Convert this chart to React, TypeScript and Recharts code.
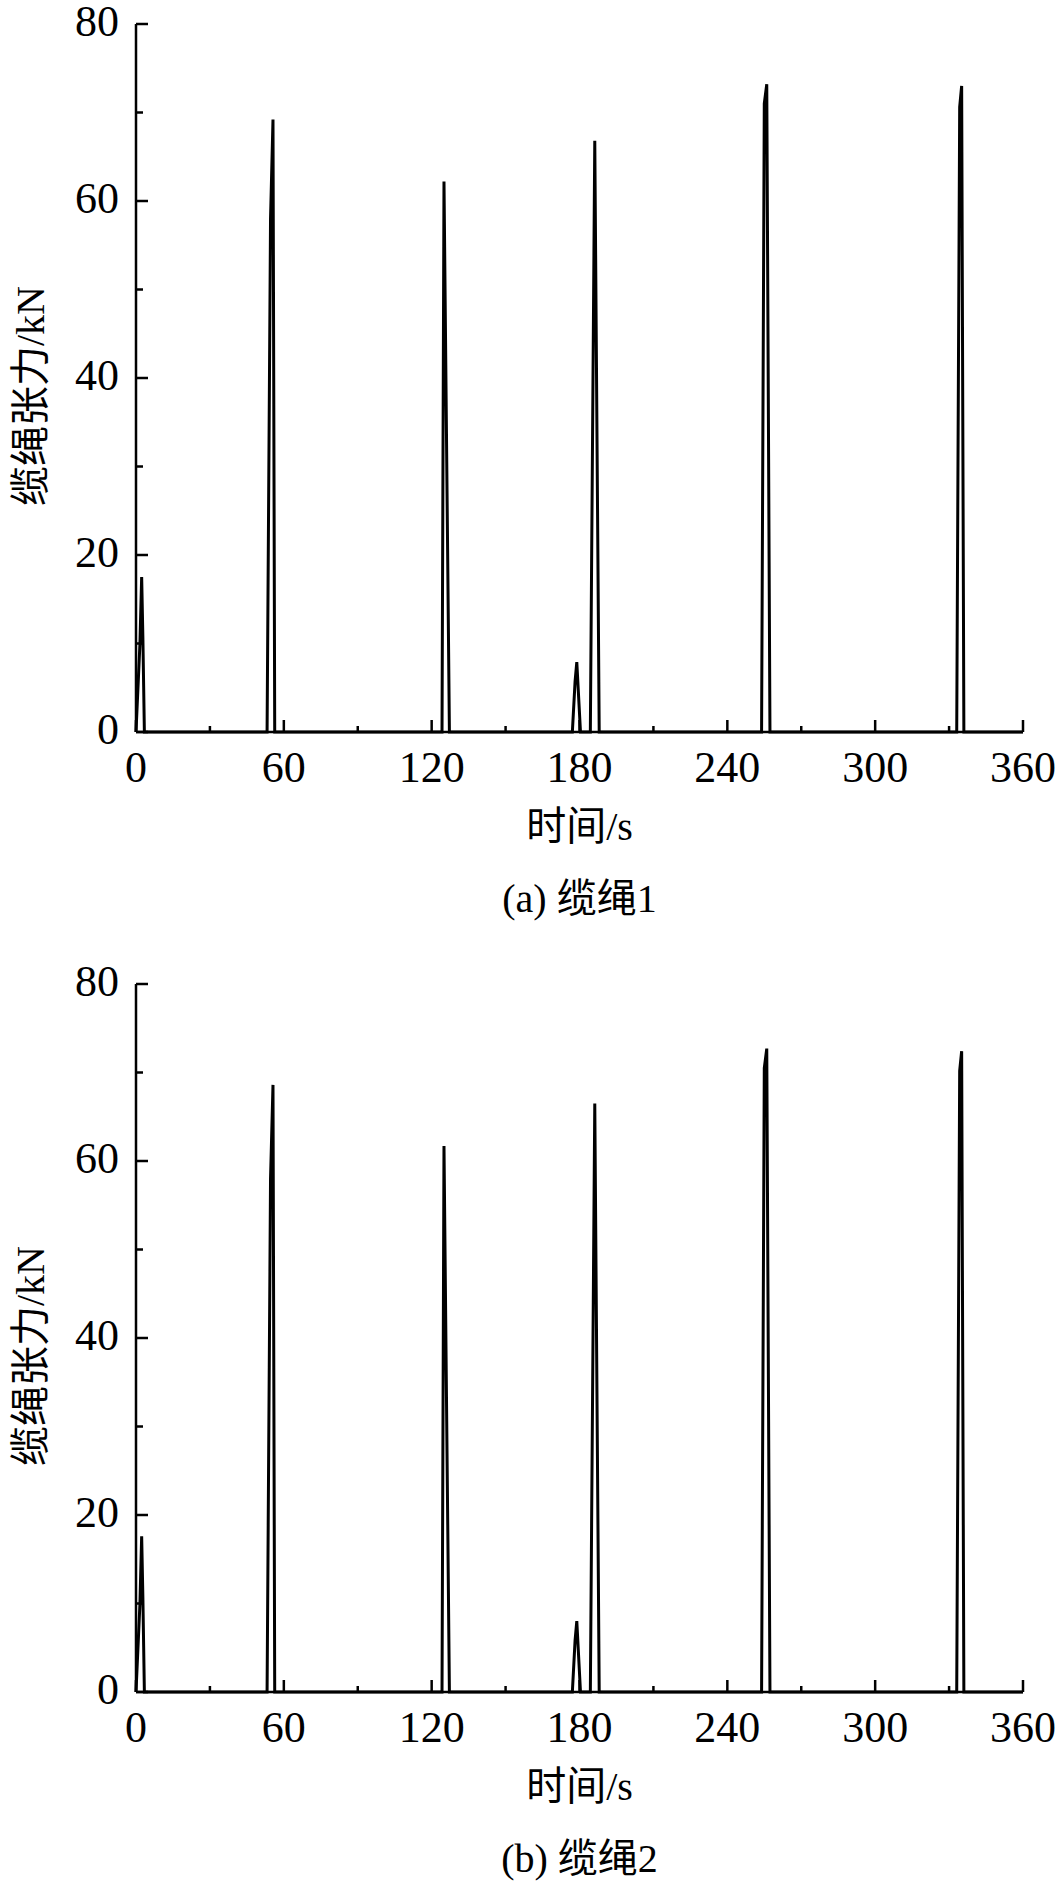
import { LineChart, Line, XAxis, YAxis, Label } from "recharts";

// 时间/s — sample times of the tension record (same for both ropes)
const TIME = [
  0, 1.6, 2.3, 2.8, 3.4,
  53.2, 54.6, 55.6, 56.3,
  124.2, 125.0, 127.2,
  177.1, 178.2, 178.9, 180.4,
  184.4, 186.2, 188.0,
  253.9, 255.0, 256.0, 257.3,
  333.1, 334.3, 335.1, 336.0,
  360,
];

// 缆绳1 tension, kN
const FORCE_ROPE1 = [
  0, 10.0, 17.5, 10.5, 0,
  0, 58.0, 69.2, 0,
  0, 62.2, 0,
  0, 5.7, 7.9, 0,
  0, 66.8, 0,
  0, 71.0, 73.2, 0,
  0, 70.6, 73.0, 0,
  0,
];

// 缆绳2 tension, kN
const FORCE_ROPE2 = [
  0, 10.0, 17.6, 10.5, 0,
  0, 58.0, 68.6, 0,
  0, 61.7, 0,
  0, 5.8, 8.0, 0,
  0, 66.5, 0,
  0, 70.5, 72.7, 0,
  0, 70.2, 72.4, 0,
  0,
];

const X_TICKS = [0, 30, 60, 90, 120, 150, 180, 210, 240, 270, 300, 330, 360];
const Y_TICKS = [0, 10, 20, 30, 40, 50, 60, 70, 80];

const FONT = '"Liberation Serif", "Times New Roman", "Noto Sans CJK SC", serif';
const W = 1063;
const PLOT_H = 708;
const AXIS = { stroke: "#000", strokeWidth: 2.5 };

function XTick({ x, y, payload }: any) {
  const v = payload.value;
  const major = v % 60 === 0;
  return (
    <g>
      <line x1={x} x2={x} y1={y} y2={y - (major ? 12 : 6)} stroke="#000" strokeWidth={2.5} />
      {major && (
        <text x={x} y={y + 50} textAnchor="middle" fontSize={44} fontFamily={FONT} fill="#000">
          {v}
        </text>
      )}
    </g>
  );
}

function YTick({ x, y, payload }: any) {
  const v = payload.value;
  const major = v % 20 === 0;
  return (
    <g>
      <line x1={x} x2={x + (major ? 12 : 7)} y1={y} y2={y} stroke="#000" strokeWidth={2.5} />
      {major && (
        <text x={x - 17} y={y + 12} textAnchor="end" fontSize={44} fontFamily={FONT} fill="#000">
          {v}
        </text>
      )}
    </g>
  );
}

function TensionChart({ force, caption, top }: { force: number[]; caption: string; top: number }) {
  const data = TIME.map((t, i) => ({ t, f: force[i] }));
  const height = top + PLOT_H + 100 + 92;

  const xTitle = ({ viewBox }: any) => {
    const cx = viewBox.x + viewBox.width / 2;
    return (
      <g fontFamily={FONT} fill="#000">
        <text x={cx} y={viewBox.y + 108} textAnchor="middle" fontSize={40}>时间/s</text>
        <text x={cx} y={viewBox.y + 180} textAnchor="middle" fontSize={40}>{caption}</text>
      </g>
    );
  };

  const yTitle = ({ viewBox }: any) => {
    const cx = viewBox.x + 30;
    const cy = viewBox.y + viewBox.height / 2 + 18;
    return (
      <text x={cx} y={cy} transform={`rotate(-90 ${cx} ${cy})`} textAnchor="middle"
        dominantBaseline="central" fontSize={40} fontFamily={FONT} fill="#000">
        缆绳张力/kN
      </text>
    );
  };

  return (
    <LineChart width={W} height={height} data={data} margin={{ top, right: 40, left: 0, bottom: 92 }}
      style={{ overflow: "visible" }}>
      <XAxis dataKey="t" type="number" domain={[0, 360]} ticks={X_TICKS} interval={0}
        height={100} tickSize={0} tickMargin={0} tickLine={false} axisLine={AXIS} tick={<XTick />}>
        <Label content={xTitle} />
      </XAxis>
      <XAxis xAxisId="top" orientation="top" dataKey="t" type="number" domain={[0, 360]}
        height={0} tick={false} tickLine={false} axisLine={AXIS} />
      <YAxis type="number" domain={[0, 80]} ticks={Y_TICKS} interval={0} width={136}
        tickSize={0} tickMargin={0} tickLine={false} axisLine={AXIS} tick={<YTick />}>
        <Label content={yTitle} />
      </YAxis>
      <YAxis yAxisId="right" orientation="right" type="number" domain={[0, 80]}
        width={0} tick={false} tickLine={false} axisLine={AXIS} />
      <Line type="linear" dataKey="f" stroke="#000" strokeWidth={3} dot={false}
        isAnimationActive={false} />
    </LineChart>
  );
}

export default function App() {
  return (
    <div style={{ position: "absolute", left: 0, top: 0, width: W, height: 1884, overflow: "hidden", background: "#fff" }}>
      <div style={{ position: "absolute", left: 0, top: 0 }}>
        <TensionChart force={FORCE_ROPE1} caption="(a) 缆绳1" top={24} />
      </div>
      <div style={{ position: "absolute", left: 0, top: 940 }}>
        <TensionChart force={FORCE_ROPE2} caption="(b) 缆绳2" top={44} />
      </div>
    </div>
  );
}
